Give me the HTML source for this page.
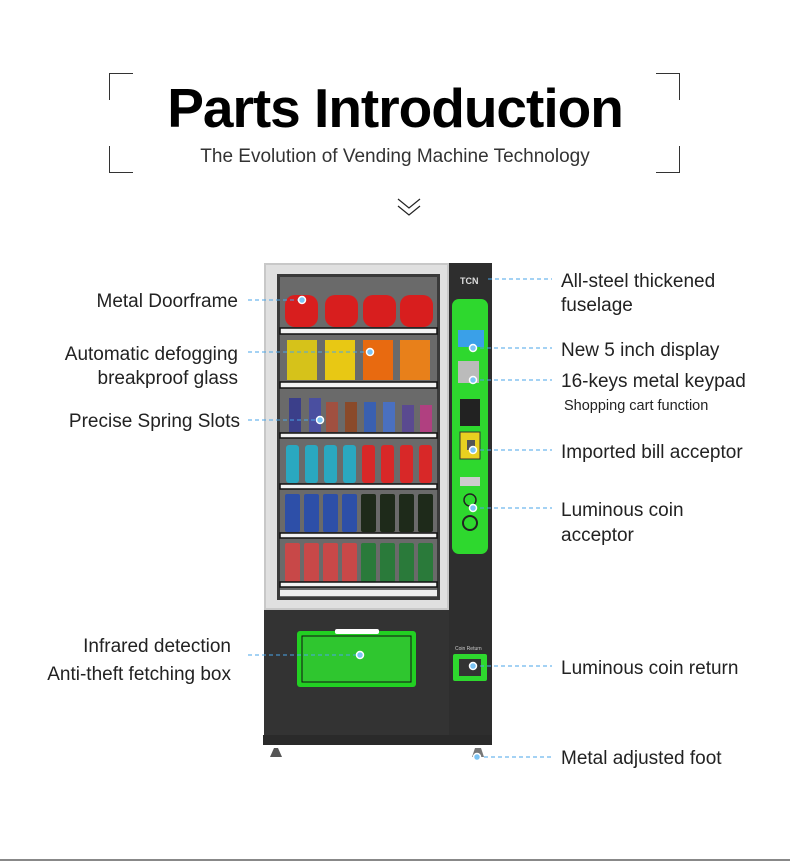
<!DOCTYPE html>
<html><head><meta charset="utf-8"><style>
html,body{margin:0;padding:0;background:#fff;}
body{width:790px;height:861px;overflow:hidden;position:relative;font-family:"Liberation Sans",sans-serif;}
svg{position:absolute;left:0;top:0;}
</style></head><body>
<svg width="790" height="861" viewBox="0 0 790 861" xmlns="http://www.w3.org/2000/svg" font-family="Liberation Sans, sans-serif">
<g stroke="#333" stroke-width="1" fill="none">
<path d="M133,73.5 H109.5 V100"/><path d="M109.5,146 V172.5 H133"/>
<path d="M656,73.5 H679.5 V100"/><path d="M679.5,146 V172.5 H656"/>
</g>
<text x="395" y="127" text-anchor="middle" font-size="55" font-weight="bold" fill="#000" letter-spacing="-1">Parts Introduction</text>
<text x="395" y="162" text-anchor="middle" font-size="19" fill="#333">The Evolution of Vending Machine Technology</text>
<g stroke="#222" stroke-width="1.2" fill="none"><path d="M398,199 L409,208 L420,199"/><path d="M398,206 L409,215 L420,206"/></g>

<rect x="263" y="735" width="229" height="10" fill="#2a2a2a"/>
<path d="M270,757 L274,748 L278,748 L282,757 Z" fill="#555"/>
<path d="M472,757 L475,748 L481,748 L484,757 Z" fill="#777"/>
<rect x="449" y="263" width="43" height="472" fill="#2e2e2e"/>
<rect x="264" y="610" width="185" height="125" fill="#333"/>
<rect x="264" y="263" width="185" height="347" fill="#c8c8c8"/>
<rect x="266" y="265" width="181" height="343" fill="#e0e0e0"/>
<rect x="277" y="274" width="163" height="326" fill="#3a3a3a"/>
<rect x="280" y="277" width="157" height="320" fill="#6a6a6a"/>
<g fill="#d81e1e"><rect x="285" y="295" width="33" height="32" rx="10"/><rect x="325" y="295" width="33" height="32" rx="10"/><rect x="363" y="295" width="33" height="32" rx="10"/><rect x="400" y="295" width="33" height="32" rx="10"/></g>
<rect x="287" y="340" width="30" height="40" fill="#d6c21a"/><rect x="325" y="340" width="30" height="40" fill="#e8c814"/><rect x="363" y="340" width="30" height="40" fill="#e86a10"/><rect x="400" y="340" width="30" height="40" fill="#e8801a"/>
<g><rect x="289" y="398" width="12" height="34" fill="#3b3f8a"/><rect x="309" y="398" width="12" height="34" fill="#4a4fa0"/><rect x="326" y="402" width="12" height="30" fill="#a05040"/><rect x="345" y="402" width="12" height="30" fill="#8a4a2a"/><rect x="364" y="402" width="12" height="30" fill="#3a60b0"/><rect x="383" y="402" width="12" height="30" fill="#4a70c0"/><rect x="402" y="405" width="12" height="27" fill="#5a4a90"/><rect x="420" y="405" width="12" height="27" fill="#b04080"/></g>
<g fill="#2aa8c0"><rect x="286" y="445" width="13" height="38" rx="3"/><rect x="305" y="445" width="13" height="38" rx="3"/><rect x="324" y="445" width="13" height="38" rx="3"/><rect x="343" y="445" width="13" height="38" rx="3"/></g>
<g fill="#d82828"><rect x="362" y="445" width="13" height="38" rx="3"/><rect x="381" y="445" width="13" height="38" rx="3"/><rect x="400" y="445" width="13" height="38" rx="3"/><rect x="419" y="445" width="13" height="38" rx="3"/></g>
<g fill="#2d4fa8"><rect x="285" y="494" width="15" height="38" rx="2"/><rect x="304" y="494" width="15" height="38" rx="2"/><rect x="323" y="494" width="15" height="38" rx="2"/><rect x="342" y="494" width="15" height="38" rx="2"/></g>
<g fill="#1e2a1a"><rect x="361" y="494" width="15" height="38" rx="2"/><rect x="380" y="494" width="15" height="38" rx="2"/><rect x="399" y="494" width="15" height="38" rx="2"/><rect x="418" y="494" width="15" height="38" rx="2"/></g>
<g fill="#c84848"><rect x="285" y="543" width="15" height="39" rx="2"/><rect x="304" y="543" width="15" height="39" rx="2"/><rect x="323" y="543" width="15" height="39" rx="2"/><rect x="342" y="543" width="15" height="39" rx="2"/></g>
<g fill="#2a7a3a"><rect x="361" y="543" width="15" height="39" rx="2"/><rect x="380" y="543" width="15" height="39" rx="2"/><rect x="399" y="543" width="15" height="39" rx="2"/><rect x="418" y="543" width="15" height="39" rx="2"/></g>
<g fill="#f2f2f2" stroke="#111" stroke-width="1.5">
<rect x="280" y="328" width="157" height="6"/><rect x="280" y="382" width="157" height="6"/><rect x="280" y="433" width="157" height="5"/><rect x="280" y="484" width="157" height="5"/><rect x="280" y="533" width="157" height="5"/><rect x="280" y="582" width="157" height="5"/>
</g>
<rect x="280" y="590" width="157" height="6" fill="#eee"/>
<rect x="297" y="631" width="119" height="56" fill="#22d022" rx="3"/>
<rect x="302" y="636" width="109" height="46" fill="#2fc62f" stroke="#111" stroke-width="1"/>
<rect x="335" y="629" width="44" height="5" fill="#fff" rx="2"/>
<text x="460" y="284" font-size="9" font-weight="bold" fill="#ddd">TCN</text>
<rect x="452" y="299" width="36" height="255" rx="7" fill="#2ed82e"/>
<rect x="458" y="330" width="26" height="17" fill="#3aa0e8"/>
<rect x="458" y="361" width="21" height="22" fill="#bbb"/>
<rect x="460" y="399" width="20" height="27" fill="#222"/>
<rect x="460" y="432" width="20" height="27" fill="#e8d020" stroke="#333"/>
<rect x="467" y="440" width="8" height="10" fill="#555"/>
<rect x="460" y="477" width="20" height="9" fill="#ccc"/>
<circle cx="470" cy="500" r="6" fill="none" stroke="#222" stroke-width="1.5"/>
<circle cx="470" cy="523" r="7" fill="none" stroke="#222" stroke-width="2"/>
<text x="455" y="650" font-size="5" fill="#ccc">Coin Return</text>
<rect x="453" y="654" width="34" height="27" fill="#2ed82e" rx="2"/>
<rect x="459" y="659" width="22" height="17" fill="#333"/>
<g stroke="#4aa6e8" stroke-width="1" stroke-dasharray="4,3" fill="none">
<path d="M248,300 H302"/><path d="M248,352 H370"/><path d="M248,420 H320"/><path d="M248,655 H360"/>
<path d="M488,279 H552"/><path d="M473,348 H552"/><path d="M473,380 H552"/><path d="M473,450 H552"/><path d="M473,508 H552"/><path d="M473,666 H552"/><path d="M477,757 H552"/>
</g>
<g fill="#7cc4f4" stroke="#fff" stroke-width="1.5">
<circle cx="302" cy="300" r="3.5"/><circle cx="370" cy="352" r="3.5"/><circle cx="320" cy="420" r="3.5"/><circle cx="360" cy="655" r="3.5"/>
<circle cx="473" cy="348" r="3.5"/><circle cx="473" cy="380" r="3.5"/><circle cx="473" cy="450" r="3.5"/><circle cx="473" cy="508" r="3.5"/><circle cx="473" cy="666" r="3.5"/><circle cx="477" cy="757" r="3.5"/>
</g>
<g font-size="19" fill="#222" text-anchor="end">
<text x="238" y="307">Metal Doorframe</text>
<text x="238" y="360">Automatic defogging</text>
<text x="238" y="384">breakproof glass</text>
<text x="240" y="427">Precise Spring Slots</text>
<text x="231" y="652">Infrared detection</text>
<text x="231" y="680">Anti-theft fetching box</text>
</g>
<g font-size="19" fill="#222">
<text x="561" y="287">All-steel thickened</text>
<text x="561" y="311">fuselage</text>
<text x="561" y="356">New 5 inch display</text>
<text x="561" y="387">16-keys metal keypad</text>
<text x="564" y="410" font-size="14.5">Shopping cart function</text>
<text x="561" y="458">Imported bill acceptor</text>
<text x="561" y="516">Luminous coin</text>
<text x="561" y="541">acceptor</text>
<text x="561" y="674">Luminous coin return</text>
<text x="561" y="764">Metal adjusted foot</text>
</g>
<rect x="0" y="859" width="790" height="2" fill="#888"/>
</svg>
</body></html>
